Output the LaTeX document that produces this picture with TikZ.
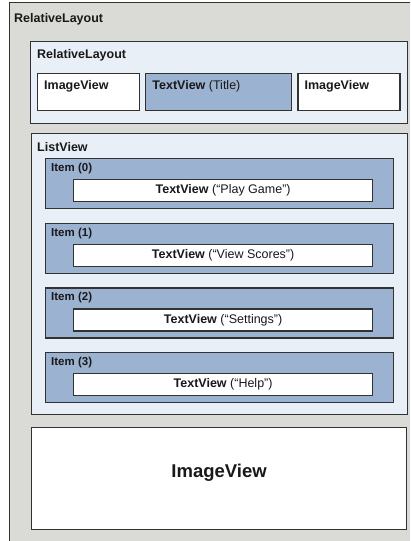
\documentclass[tikz,border=0pt]{standalone}
\usepackage{fontspec}
\setmainfont{Liberation Sans}
\usetikzlibrary{positioning}
\definecolor{framegray}{RGB}{218,218,214}
\definecolor{paneblue}{RGB}{233,239,247}
\definecolor{itemblue}{RGB}{156,178,209}
\definecolor{edge}{RGB}{50,50,50}
\definecolor{ink}{RGB}{25,25,25}

\begin{document}
\begin{tikzpicture}[
    x=1pt, y=-1pt,
    layoutbox/.style={rectangle, draw=edge, line width=1.2pt, anchor=north west, inner sep=0pt},
    panebox/.style={layoutbox, fill=paneblue, line width=0.9pt},
    viewbox/.style={layoutbox, fill=white},
    itembox/.style={layoutbox, fill=itemblue},
    caption/.style={inner sep=0pt, anchor=north west, text=ink, font=\bfseries\fontsize{12.5}{14}\selectfont},
    itemcaption/.style={caption, font=\bfseries\fontsize{11.5}{13}\selectfont},
    viewtext/.style={text=ink, font=\fontsize{12.5}{14}\selectfont}
]
    \useasboundingbox (0,0) rectangle (410,541);
    \clip (0,0) rectangle (410,541);
    \fill[white] (0,0) rectangle (410,541);

    % outer layout, cut off at right and bottom
    \node[layoutbox, fill=framegray, minimum width=440pt, minimum height=580pt] (root) at (9,2) {};
    \node[caption, below right=11pt and 5pt of root.north west] (rootname) {RelativeLayout};

    % header
    \node[panebox, minimum width=377pt, minimum height=82pt] (header) at (30,41) {};
    \node[caption, below right=8pt and 7pt of header.north west] (headername) {RelativeLayout};
    \node[viewbox, minimum width=102pt, minimum height=37pt] (imgleft) at (37,73) {};
    \node[itembox, minimum width=146pt, minimum height=37pt, right=5pt of imgleft] (titleview) {};
    \node[viewbox, minimum width=102pt, minimum height=37pt, right=5pt of titleview] (imgright) {};
    \node[caption, below right=7pt and 7pt of imgleft.north west] {ImageView};
    \node[caption, below right=7pt and 7pt of titleview.north west] {TextView \mdseries(Title)};
    \node[caption, below right=7pt and 7pt of imgright.north west] {ImageView};

    % list
    \node[panebox, minimum width=376pt, minimum height=281pt] (list) at (31,133) {};
    \node[caption, below right=9pt and 6pt of list.north west] (listname) {ListView};
    \foreach \i/\txt in {0/Play Game, 1/View Scores, 2/Settings, 3/Help} {
        \node[itembox, minimum width=348pt, minimum height=50pt] (item\i) at (45,{158+64.67*\i}) {};
        \node[itemcaption, below right=5pt and 6pt of item\i.north west] {Item (\i)};
        \node[viewbox, viewtext, minimum width=299pt, minimum height=22pt]
            (tv\i) at ([shift={(28pt,-21pt)}]item\i.north west) {\textbf{TextView} (“\txt”)};
    }

    % footer image
    \node[viewbox, minimum width=375pt, minimum height=102pt] (bigimg) at (31,427) {};
    \node[caption, anchor=center, font=\bfseries\fontsize{18.5}{20}\selectfont] at ([yshift=6pt]bigimg.center) {ImageView};
\end{tikzpicture}
\end{document}
